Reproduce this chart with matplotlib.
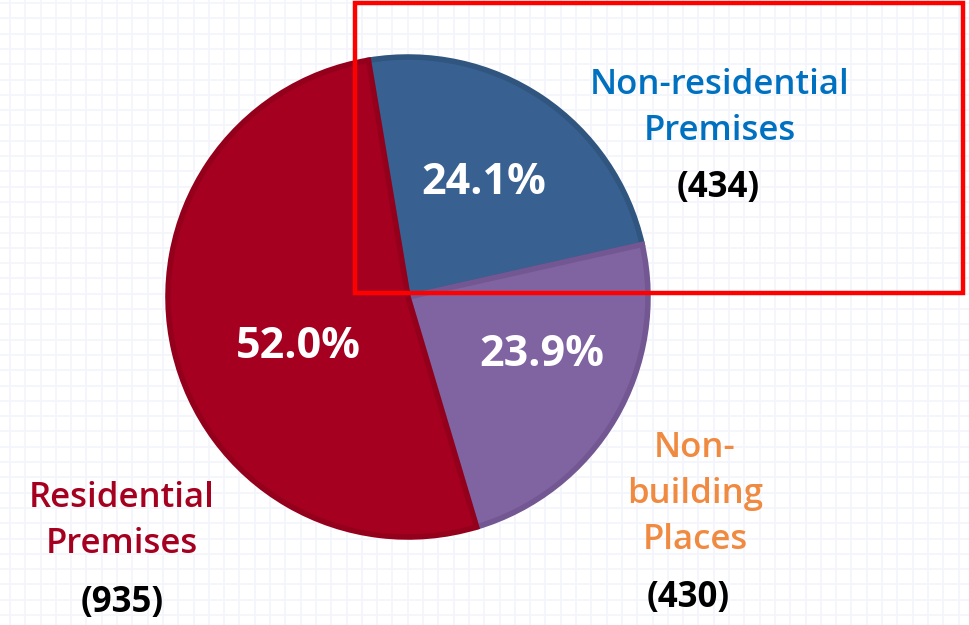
import matplotlib.pyplot as plt
from matplotlib.patches import Rectangle
import numpy as np

# Data
categories = ["Non-residential\nPremises", "Non-\nbuilding\nPlaces", "Residential\nPremises"]
counts = [434, 430, 935]
fill_colors = ["#386192", "#8064a2", "#a5001f"]
edge_colors = ["#30557f", "#735792", "#94001c"]
label_colors = ["#0070c0", "#f08a40", "#a5001f"]

plt.rcParams['font.family'] = ['Open Sans', 'DejaVu Sans']

W, H = 969, 625
fig = plt.figure(figsize=(W / 100, H / 100), dpi=100)
fig.patch.set_facecolor("white")

# faint grid paper background
bg = fig.add_axes([0, 0, 1, 1])
bg.set_xlim(0, W)
bg.set_ylim(H, 0)
step = 15.3
for gx in np.arange(10, W, step):
    bg.axvline(gx, color="#f2f5fb", lw=1.2, zorder=0)
for gy in np.arange(3, H, step):
    bg.axhline(gy, color="#f2f5fb", lw=1.2, zorder=0)
bg.axis("off")

ax = fig.add_axes([0, 0, 1, 1])
ax.patch.set_alpha(0)
ax.set_xlim(0, W)
ax.set_ylim(0, H)
ax.set_aspect("equal")
ax.axis("off")

cx, cy, R = 408, H - 297, 240
wedges, _ = ax.pie(counts, colors=fill_colors, startangle=99.5, counterclock=False,
                   center=(cx, cy), radius=R, frame=True,
                   wedgeprops=dict(linewidth=4, joinstyle="miter"))
for w, ec in zip(wedges, edge_colors):
    w.set_edgecolor(ec)
ax.set_xlim(0, W)
ax.set_ylim(0, H)
ax.axis("off")

total = sum(counts)
pcts = [f"{c / total * 100:.1f}%" for c in counts]

# percentage labels inside the slices
pct_pos = [(484, 182), (542, 355), (298, 347)]
for (px, py), p in zip(pct_pos, pcts):
    ax.text(px, H - py, p, color="white", fontsize=31, fontweight="bold",
            ha="center", va="center")

# category labels outside
name_pos = [(720, 108), (695, 494), (122, 521)]
count_pos = [(718, 188), (688, 598), (122, 603)]
for (nx, ny), (qx, qy), name, c, col in zip(name_pos, count_pos, categories, counts, label_colors):
    ax.text(nx, H - ny, name, color=col, fontsize=25, ha="center", va="center",
            linespacing=1.45, fontweight="semibold")
    ax.text(qx, H - qy, f"({c})", color="black", fontsize=25, fontweight="bold",
            ha="center", va="center")

# red highlight box
fig.patches.append(Rectangle((355 / W, 1 - 293 / H), (963 - 355) / W, (293 - 3) / H,
                             transform=fig.transFigure, fill=False,
                             edgecolor="#ff0000", linewidth=3.2, zorder=10))

fig.savefig("out.png", dpi=100)
